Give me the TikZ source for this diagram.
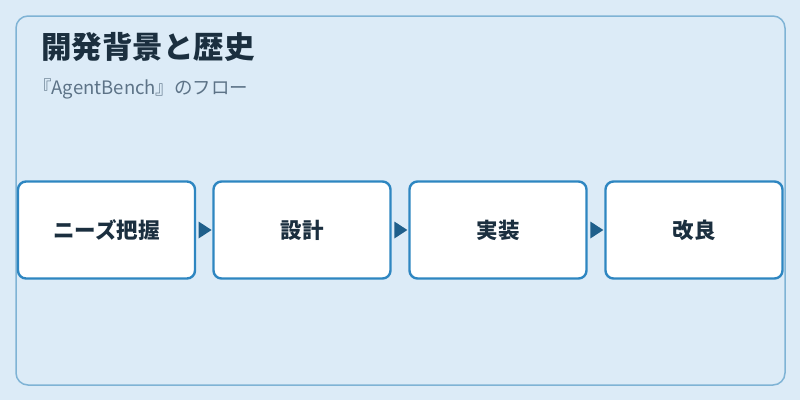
\documentclass[tikz,border=0pt]{standalone}
\usepackage{fontspec}
\setmainfont{Noto Sans CJK JP}
\definecolor{bgc}{HTML}{DCEBF7}
\definecolor{panelborder}{HTML}{7FB3D5}
\definecolor{boxborder}{HTML}{2E86C1}
\definecolor{arrowc}{HTML}{1F5F8B}
\definecolor{titlec}{HTML}{1B2F3F}
\definecolor{subc}{HTML}{5D7387}
\begin{document}
\begin{tikzpicture}[x=1pt,y=-1pt,
  stepbox/.style={draw=boxborder,line width=2.4pt,fill=white,rounded corners=8pt,
    minimum width=177pt,minimum height=97pt,inner sep=0pt,
    font=\fontsize{21.5}{25}\selectfont\bfseries,text=titlec},
  tri/.style={fill=arrowc}]
\useasboundingbox (0,0) rectangle (800,400);
\fill[bgc] (0,0) rectangle (800,400);
\draw[panelborder,line width=1.5pt,rounded corners=12pt] (16,16) rectangle (785,385);
\node[anchor=west,text=titlec,font=\fontsize{30.5}{34}\selectfont\bfseries,inner sep=0pt] (title) at (41,47) {開発背景と歴史};
\node[anchor=west,text=subc,font=\fontsize{18.5}{22}\selectfont,inner sep=0pt] (sub) at (33,89) {『AgentBench』のフロー};
\node[stepbox] (b1) at (106.5,230) {ニーズ把握};
\node[stepbox] (b2) at (302,230) {設計};
\node[stepbox] (b3) at (498,230) {実装};
\node[stepbox] (b4) at (694,230) {改良};
\foreach \a/\b/\m in {b1/b2/m1,b2/b3/m2,b3/b4/m3}{
  \path (\a.east) -- coordinate[pos=0.55] (\m) (\b.west);
  \fill[tri] ([xshift=-6.5pt,yshift=8.5pt]\m) -- ([xshift=6.5pt]\m) -- ([xshift=-6.5pt,yshift=-8.5pt]\m) -- cycle;
}
\end{tikzpicture}
\end{document}
